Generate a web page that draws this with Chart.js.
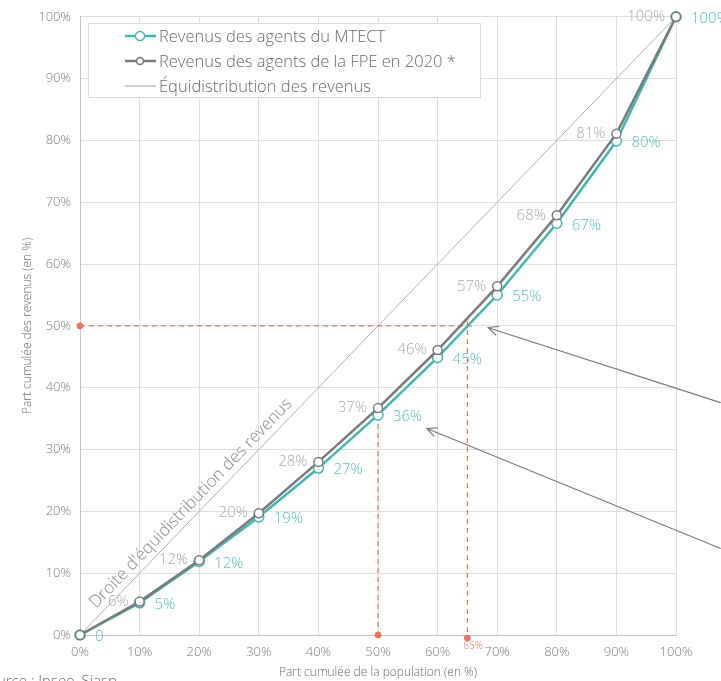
<!DOCTYPE html>
<html>
<head>
<meta charset="utf-8">
<script src="https://cdn.jsdelivr.net/npm/chart.js@4/dist/chart.umd.min.js"></script>
<style>
  body { margin: 0; background: #fff; }
  canvas { display: block; }
</style>
</head>
<body>
<canvas id="lorenzChart" width="721" height="681"></canvas>
<script>
// --- data ---
const popShares = [0, 10, 20, 30, 40, 50, 60, 70, 80, 90, 100];
const mtectValues = [0, 5.2, 11.9, 19.1, 27.0, 35.6, 44.9, 55.0, 66.6, 79.9, 100];
const fpeValues = [0, 5.4, 12.1, 19.7, 28.0, 36.7, 46.1, 56.4, 67.9, 81.1, 100];
const mtectLabels = ['0', '5%', '12%', '19%', '27%', '36%', '45%', '55%', '67%', '80%', '100%'];
const fpeLabels = ['', '6%', '12%', '20%', '28%', '37%', '46%', '57%', '68%', '81%', '100%'];
const equiX = [0, 100];
const equiY = [0, 100];
// reading guides (median and 50% of revenues)
const guideH = [[0, 50], [66.5, 50]];
const guideV50 = [[50, 35.6], [50, 0]];
const guideV65 = [[65, 50.8], [65, -0.5]];
const guideDots = [[0, 50], [50, 0], [65, -0.5]];
// annotation arrows [tailX, tailY, tipX, tipY] in data units
const arrows = [[107.5, 37.6, 68.5, 49.7], [107.5, 14.0, 58.2, 33.4]];

const teal = '#3db9b1';
const tealText = '#4fc2bb';
const grey = '#7b7b7b';
const greyText = '#ababab';
const coral = '#f07455';
const font = '"Open Sans", Lato, sans-serif';

function pts(xs, ys) {
    return xs.map((x, i) => ({ x: x, y: ys[i] }));
}
function pairs(arr) {
    return arr.map(p => ({ x: p[0], y: p[1] }));
}

// labels next to the points + diagonal text + arrows + legend
const decorPlugin = {
    id: 'decor',
    afterDatasetsDraw(chart) {
        const ctx = chart.ctx;
        const xs = chart.scales.x, ys = chart.scales.y;
        ctx.save();

        // diagonal caption
        const p0x = xs.getPixelForValue(0), p0y = ys.getPixelForValue(0);
        const p1x = xs.getPixelForValue(100), p1y = ys.getPixelForValue(100);
        const ang = Math.atan2(p1y - p0y, p1x - p0x);
        const cx = xs.getPixelForValue(20), cy = ys.getPixelForValue(20);
        ctx.translate(cx, cy);
        ctx.rotate(ang);
        ctx.font = '300 17px ' + font;
        ctx.fillStyle = '#8c8c8c';
        ctx.textAlign = 'center';
        ctx.textBaseline = 'bottom';
        ctx.fillText("Droite d'équidistribution des revenus", 0, -3);
        ctx.setTransform(1, 0, 0, 1, 0, 0);

        // point labels
        ctx.font = '300 15px ' + font;
        ctx.textBaseline = 'middle';
        const fpeMeta = chart.getDatasetMeta(1);
        ctx.fillStyle = greyText;
        ctx.textAlign = 'right';
        fpeMeta.data.forEach((el, i) => {
            if (fpeLabels[i]) ctx.fillText(fpeLabels[i], el.x - 11, el.y);
        });
        const mMeta = chart.getDatasetMeta(0);
        ctx.fillStyle = tealText;
        ctx.textAlign = 'left';
        mMeta.data.forEach((el, i) => {
            ctx.fillText(mtectLabels[i], el.x + 15, el.y + 2);
        });

        // 65% small label
        ctx.font = '300 10px ' + font;
        ctx.fillStyle = coral;
        ctx.textAlign = 'left';
        ctx.fillText('65%', xs.getPixelForValue(64.3), ys.getPixelForValue(-1.8));

        // arrows
        ctx.strokeStyle = '#7a7a7a';
        ctx.lineWidth = 1.2;
        arrows.forEach(a => {
            const tx = xs.getPixelForValue(a[0]), ty = ys.getPixelForValue(a[1]);
            const hx = xs.getPixelForValue(a[2]), hy = ys.getPixelForValue(a[3]);
            const d = Math.atan2(ty - hy, tx - hx);
            ctx.beginPath();
            ctx.moveTo(tx, ty);
            ctx.lineTo(hx, hy);
            ctx.moveTo(hx + 11 * Math.cos(d - 0.45), hy + 11 * Math.sin(d - 0.45));
            ctx.lineTo(hx, hy);
            ctx.lineTo(hx + 11 * Math.cos(d + 0.45), hy + 11 * Math.sin(d + 0.45));
            ctx.stroke();
        });

        // legend box
        ctx.fillStyle = '#fff';
        ctx.fillRect(88.5, 23.5, 392, 74);
        ctx.strokeStyle = '#dcdcdc';
        ctx.lineWidth = 1;
        ctx.strokeRect(88.5, 23.5, 392, 74);
        const items = [
            { text: 'Revenus des agents du MTECT', color: teal, w: 2.5, r: 4.5 },
            { text: 'Revenus des agents de la FPE en 2020 *', color: grey, w: 2.5, r: 3.5 },
            { text: 'Équidistribution des revenus', color: '#b0b0b0', w: 1.2, r: 0 }
        ];
        items.forEach((it, i) => {
            const y = 36 + i * 25;
            ctx.strokeStyle = it.color;
            ctx.lineWidth = it.w;
            ctx.beginPath();
            ctx.moveTo(125, y);
            ctx.lineTo(156, y);
            ctx.stroke();
            if (it.r) {
                ctx.beginPath();
                ctx.arc(140, y, it.r, 0, Math.PI * 2);
                ctx.fillStyle = '#fff';
                ctx.fill();
                ctx.lineWidth = 1.5;
                ctx.stroke();
            }
            ctx.fillStyle = '#6a6a6a';
            ctx.font = '300 16.5px ' + font;
            ctx.textAlign = 'left';
            ctx.textBaseline = 'middle';
            ctx.fillText(it.text, 159, y + 1);
        });

        // source line (cut at the page edge)
        ctx.font = '300 15px ' + font;
        ctx.fillStyle = '#666';
        ctx.textAlign = 'right';
        ctx.textBaseline = 'top';
        ctx.fillText('Source : Insee, Siasp', 117, 674);

        ctx.restore();
    }
};

const ctx = document.getElementById('lorenzChart').getContext('2d');
new Chart(ctx, {
    type: 'line',
    data: {
        datasets: [{
            label: 'Revenus des agents du MTECT',
            data: pts(popShares, mtectValues),
            borderColor: teal,
            borderWidth: 2.5,
            pointRadius: 5,
            pointBorderWidth: 1.5,
            pointBackgroundColor: '#fff',
            pointBorderColor: teal,
            order: 2
        }, {
            label: 'Revenus des agents de la FPE en 2020 *',
            data: pts(popShares, fpeValues),
            borderColor: grey,
            borderWidth: 2.5,
            pointRadius: 4.5,
            pointBorderWidth: 1.5,
            pointBackgroundColor: '#fff',
            pointBorderColor: grey,
            order: 1
        }, {
            label: 'Équidistribution des revenus',
            data: pts(equiX, equiY),
            borderColor: '#b0b0b0',
            borderWidth: 1,
            pointRadius: 0,
            order: 5
        }, {
            data: pairs(guideH),
            borderColor: coral,
            borderWidth: 1.2,
            borderDash: [5, 4],
            pointRadius: 0,
            order: 4
        }, {
            data: pairs(guideV50),
            borderColor: coral,
            borderWidth: 1.2,
            borderDash: [5, 4],
            pointRadius: 0,
            order: 4
        }, {
            data: pairs(guideV65),
            borderColor: coral,
            borderWidth: 1.2,
            borderDash: [5, 4],
            pointRadius: 0,
            order: 4
        }, {
            data: pairs(guideDots),
            showLine: false,
            pointRadius: 3,
            pointBackgroundColor: coral,
            pointBorderColor: coral,
            order: 3
        }]
    },
    options: {
        responsive: false,
        animation: false,
        clip: false,
        layout: { padding: { top: 13, right: 45, left: 0, bottom: 0 } },
        plugins: { legend: { display: false }, tooltip: { enabled: false } },
        scales: {
            x: {
                type: 'linear',
                min: 0,
                max: 100,
                afterFit: s => { s.height = 46; },
                grid: { color: '#dedede', drawTicks: false },
                border: { color: '#c4c4c4' },
                ticks: {
                    stepSize: 10,
                    padding: 9,
                    color: '#7a7a7a',
                    font: { family: font, size: 13, weight: 300 },
                    callback: v => v + '%'
                },
                title: {
                    display: true,
                    text: 'Part cumulée de la population (en %)',
                    color: '#6a6a6a',
                    font: { family: font, size: 12, weight: 300 },
                    padding: { top: 0, bottom: 1 }
                }
            },
            y: {
                type: 'linear',
                min: 0,
                max: 100,
                afterFit: s => { s.width = 80; },
                grid: { color: '#dedede', drawTicks: false },
                border: { color: '#c4c4c4' },
                ticks: {
                    stepSize: 10,
                    padding: 9,
                    color: '#7a7a7a',
                    font: { family: font, size: 13, weight: 300 },
                    callback: v => v + '%'
                },
                title: {
                    display: true,
                    text: 'Part cumulée des revenus (en %)',
                    color: '#6a6a6a',
                    font: { family: font, size: 12, weight: 300 },
                    padding: { top: 20, bottom: 0 }
                }
            }
        }
    },
    plugins: [decorPlugin]
});
</script>
</body>
</html>
